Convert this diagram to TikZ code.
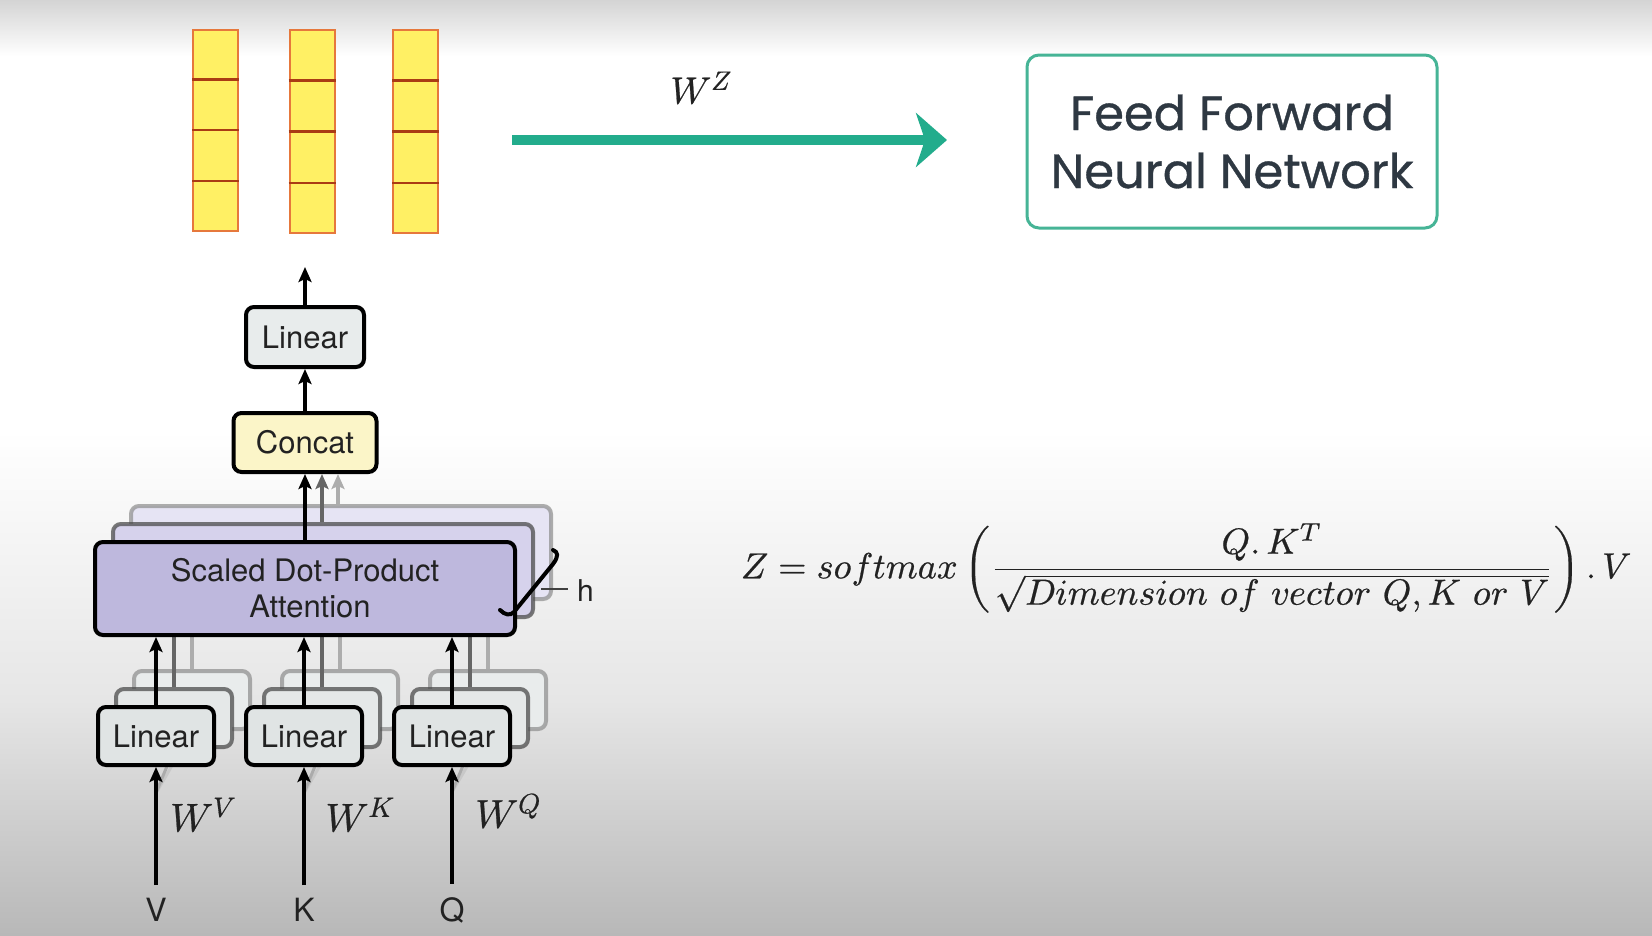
\documentclass[tikz,border=0pt]{standalone}
\usepackage{fontspec}
\usepackage{unicode-math}
\setmathfont{Latin Modern Math}[FakeBold=0.6]
\usepackage{graphicx}
\usetikzlibrary{arrows.meta,calc}
\newfontfamily\helv{TeX Gyre Heros}
\newfontfamily\popf{Poppins}[FakeBold=0.7]
\definecolor{tealA}{RGB}{34,172,140}
\definecolor{tealB}{RGB}{70,180,150}
\definecolor{ffntext}{RGB}{46,56,66}
\definecolor{bgtop}{RGB}{212,212,212}
\definecolor{bgmid}{RGB}{230,230,230}
\definecolor{bgbot}{RGB}{184,184,184}
\definecolor{cellfill}{RGB}{255,240,100}
\definecolor{cellout}{RGB}{230,120,60}
\definecolor{celldiv}{RGB}{170,60,20}
\definecolor{linfill}{RGB}{224,228,228}
\definecolor{linfillT}{RGB}{232,236,236}
\definecolor{catfill}{RGB}{251,245,200}
\definecolor{attfill}{RGB}{190,184,221}
\definecolor{attfillB}{RGB}{214,210,236}
\definecolor{attfillC}{RGB}{230,228,244}
\definecolor{txt}{RGB}{34,34,34}
\tikzset{
  blk/.style={rectangle, rounded corners=8pt, draw=black, line width=4pt, inner sep=0pt,
              font=\helv\fontsize{31}{36}\selectfont, text=txt, align=center},
  linbox/.style={blk, fill=linfill, minimum width=116pt, minimum height=58pt},
  backA/.style={draw=black!70, draw opacity=0.75, line width=4pt},
  backB/.style={draw=black!45, draw opacity=0.7, line width=4pt},
  arr/.style={line width=4pt, -{Stealth[length=15pt,width=13pt,inset=3pt]}},
  arrA/.style={arr, color=black!60},
  arrB/.style={arr, color=black!32},
  cellcol/.style={rectangle, draw=cellout, line width=2pt, fill=cellfill, minimum width=45pt, minimum height=201pt, inner sep=0pt},
  wlab/.style={font=\fontsize{40}{46}\selectfont, text=txt},
  inlab/.style={font=\helv\fontsize{32}{38}\selectfont, text=txt, inner sep=0pt}
}
\begin{document}
\begin{tikzpicture}[x=1pt,y=-1pt]
\useasboundingbox (0,0) rectangle (1652,935);
% background
\fill[white] (0,0) rectangle (1652,935);
\shade[top color=bgtop, bottom color=white] (0,0) rectangle (1652,56);
\shade[top color=white, bottom color=bgmid] (0,430) rectangle (1652,700);
\shade[top color=bgmid, bottom color=bgbot] (0,699.5) rectangle (1652,935);

% yellow output columns
\node[cellcol] (col1) at (215.5,130) {};
\node[cellcol, minimum height=203pt] (col2) at (312,131.5) {};
\node[cellcol, minimum height=203pt] (col3) at (415.5,131.5) {};
\foreach \c in {col1,col2,col3}{
  \foreach \f in {0.25,0.5,0.75}{
    \draw[celldiv, line width=2.5pt] ($(\c.north west)!\f!(\c.south west)$) -- ($(\c.north east)!\f!(\c.south east)$);
  }
}

% W^Z arrow
\coordinate (wzs) at (512,140);
\coordinate (wze) at (947,140);
\draw[tealA, line width=10pt, -{Stealth[length=31pt,width=54pt,inset=9pt]}] (wzs) -- (wze);
\node[font=\fontsize{38}{44}\selectfont, text=txt] (wz) at (701,88) {$W^{Z}$};

% feed forward box
\node[rectangle, rounded corners=12pt, draw=tealB, line width=3pt, fill=white,
      minimum width=410pt, minimum height=173pt, align=center, inner sep=0pt,
      font=\popf\fontsize{48}{58}\selectfont, text=ffntext] (ffn) at (1232,141.5)
      {Feed Forward\\Neural Network};

% formula
\node[inner sep=0pt, text=txt] (formula) at (1186,568)
  {\resizebox{890pt}{!}{$\displaystyle Z = softmax\left(\frac{Q.\,K^{T}}{\sqrt{Dimension\ of\ vector\ Q,K\ or\ V}}\right).\,V$}};

% ---- back copies of attention
\node[blk, backB, fill=attfillC, minimum width=420pt, minimum height=93pt] (att3) at (341,552.5) {};
\node[blk, backA, fill=attfillB, minimum width=420pt, minimum height=93pt] (att2) at (323,570.5) {};

% back copies of linear boxes
\foreach \n/\x in {1/156,2/304,3/452}{
  \node[linbox, backB, fill=linfill!70] (lin\n c) at (\x+36,700) {};
  \node[linbox, backA, fill=linfill!85] (lin\n b) at (\x+18,718) {};
}

% input nodes and labels
\node[inlab] (V) at (156,910) {V};
\node[inlab] (K) at (304,910) {K};
\node[inlab] (Q) at (452,910) {Q};

% faint diagonal inputs to back copies
\foreach \n/\s in {1/V,2/K,3/Q}{
  \coordinate (d\n) at ($(\s.north)+(0,-105)$);
  \draw[black!50, opacity=0.5, line width=3pt] (d\n) -- (lin\n b.south);
  \draw[black!30, opacity=0.4, line width=3pt] (d\n) -- (lin\n c.south);
}

% back connectors from linear copies to attention copies
\foreach \n in {1,2,3}{
  \draw[arrB] (lin\n c.north) -- (lin\n c.north |- att3.south);
  \draw[arrA] (lin\n b.north) -- (lin\n b.north |- att2.south);
}

% front attention
\node[blk, fill=attfill, minimum width=420pt, minimum height=93pt] (att) at (305,588.5)
  {Scaled Dot-Product\\\hspace*{10pt}Attention};

% front linear boxes
\node[linbox] (lin1) at (156,736) {Linear};
\node[linbox] (lin2) at (304,736) {Linear};
\node[linbox] (lin3) at (452,736) {Linear};

% concat and top linear
\node[blk, fill=catfill, minimum width=143pt, minimum height=59pt] (concat) at (305,442.5) {Concat};
\node[blk, fill=linfillT, minimum width=118pt, minimum height=60pt] (linT) at (305,337) {Linear};
\coordinate (out) at (305,267);

% front arrows
\draw[arr] ([yshift=13pt]V.north) -- (lin1.south);
\draw[arr] ([yshift=13pt]K.north) -- (lin2.south);
\draw[arr] ([yshift=13pt]Q.north) -- (lin3.south);
\draw[arr] (lin1.north) -- (lin1.north |- att.south);
\draw[arr] (lin2.north) -- (lin2.north |- att.south);
\draw[arr] (lin3.north) -- (lin3.north |- att.south);
\draw[arrB] ([xshift=-3pt]att3.north) -- ([xshift=-3pt]att3.north |- concat.south);
\draw[arrA] ([xshift=-1pt]att2.north) -- ([xshift=-1pt]att2.north |- concat.south);
\draw[arr] (att.north) -- (concat.south);
\draw[arr] (concat.north) -- (linT.south);
\draw[arr] (linT.north) -- (out);

% W labels
\node[wlab] (wv) at (203,815) {$W^{V}$};
\node[wlab] (wk) at (360,815) {$W^{K}$};
\node[wlab] (wq) at (508,811) {$W^{Q}$};

% h brace
\draw[black, line width=4pt, line cap=round] (500,610) .. controls (505,615) and (510,616) .. (514,612) -- (553,564) .. controls (559,556) and (558,552) .. (553,550);
\draw[black!75, line width=2.5pt] (541,589) -- (568,589);
\node[font=\helv\fontsize{30}{36}\selectfont, text=txt, anchor=west, inner sep=0pt] (h) at (577,591) {h};
\end{tikzpicture}
\end{document}
